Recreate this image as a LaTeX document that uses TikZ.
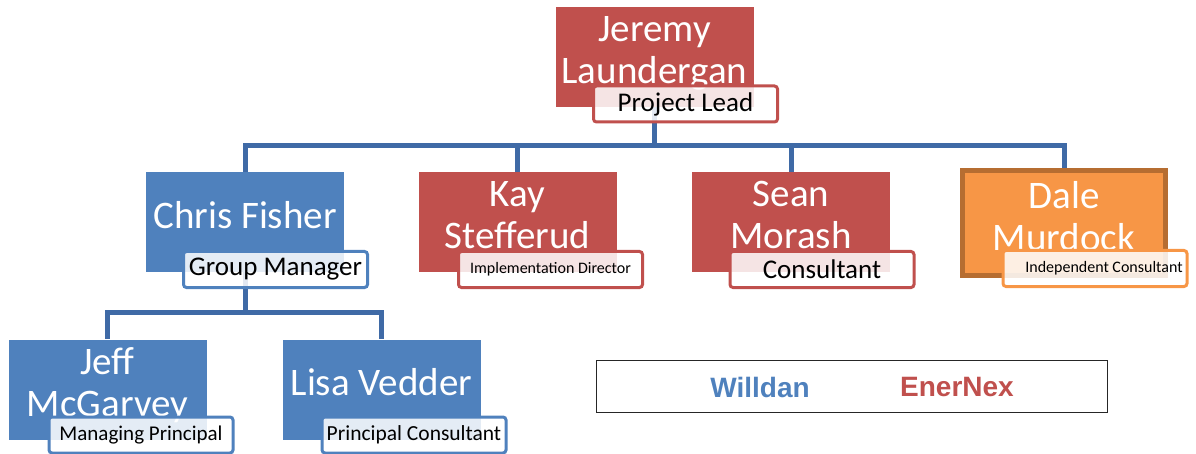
\documentclass[tikz,border=0pt]{standalone}
\usepackage{fontspec}
\setmainfont{Carlito}
\newfontfamily\legendfont{Liberation Sans}
\usetikzlibrary{positioning,calc}
\definecolor{orgRed}{HTML}{C0504D}
\definecolor{orgBlue}{HTML}{4F81BD}
\definecolor{orgOrange}{HTML}{F79646}
\definecolor{orgBrown}{HTML}{B66D31}
\definecolor{orgLine}{HTML}{3F6AA6}
\tikzset{
  person/.style={minimum width=198pt, minimum height=100pt, inner sep=0pt,
              align=center, text=white, text depth=15pt,
              font=\fontsize{39}{42}\selectfont},
  redbox/.style={person, fill=orgRed},
  bluebox/.style={person, fill=orgBlue},
  orangebox/.style={person, fill=orgOrange, draw=orgBrown, line width=5pt,
              minimum width=203pt, minimum height=105pt},
  role/.style={rounded corners=3pt, line width=3pt, fill=white, fill opacity=0.85,
              text opacity=1, minimum width=184pt, minimum height=36pt,
              inner sep=0pt, font=\fontsize{27}{30}\selectfont},
  rolered/.style={role, draw=orgRed},
  roleblue/.style={role, draw=orgBlue},
  roleorange/.style={role, draw=orgOrange},
  conn/.style={draw=orgLine, line width=5pt},
  brand/.style={font=\legendfont\bfseries\fontsize{28}{32}\selectfont},
}

\begin{document}
\begin{tikzpicture}[x=1pt,y=-1pt]
  \useasboundingbox (0,0) rectangle (1196,454);
  % bus levels
  \coordinate (bus1) at (654.5,146);
  \coordinate (bus2) at (245,312.5);

  % people
  \node[redbox] (jeremy) at (654.5,57) {Jeremy\\Laundergan};
  \node[bluebox] (chris) at (245,222) {Chris Fisher};
  \node[redbox] (kay) at (517.5,222) {Kay\\Stefferud};
  \node[redbox] (sean) at (791,222) {Sean\\Morash};
  \node[orangebox] (dale) at (1064,223) {Dale\\Murdock};
  \node[bluebox] (jeff) at (107.5,389.5) {Jeff\\McGarvey};
  \node[bluebox] (lisa) at (381.5,389.5) {Lisa Vedder};

  % connectors
  \foreach \n in {chris,kay,sean,dale}{\draw[conn] (jeremy |- jeremy.south) -- (bus1) -| (\n.north);}
  \foreach \n in {jeff,lisa}{\draw[conn] (chris.south) -- (bus2) -| (\n.north);}

  % roles
  \node[rolered] (jeremyR) at (685.5,104) {Project Lead};
  \node[roleblue] (chrisR) at (275.5,269.5) {Group Manager};
  \node[rolered,font=\fontsize{16}{18}\selectfont] (kayR) at (550.5,269.5) {Implementation Director};
  \node[rolered] (seanR) at (822,269.5) {Consultant};
  \node[roleorange,font=\fontsize{16}{18}\selectfont] (daleR) at (1095,268.5) {\hspace{18pt}Independent Consultant};
  \node[roleblue,font=\fontsize{21}{24}\selectfont] (jeffR) at (141,435) {Managing Principal};
  \node[roleblue,font=\fontsize{21.5}{24}\selectfont] (lisaR) at (414,435) {Principal Consultant};

  % legend
  \node[draw=black!85,line width=1.3pt,minimum width=511pt,minimum height=52pt] (legend) at (852,386.5) {};
  \node[brand,text=orgBlue] (willdan) at (760,387) {Willdan};
  \node[brand,text=orgRed] (enernex) at (957,387) {EnerNex};
\end{tikzpicture}
\end{document}
